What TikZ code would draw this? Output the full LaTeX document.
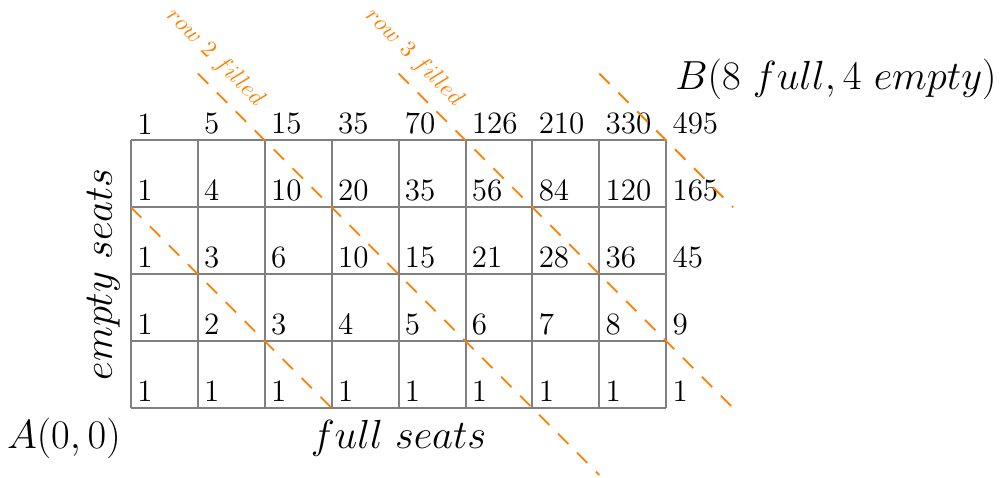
\documentclass[tikz,border=0pt]{standalone}
\usepackage{tikz}
\tikzset{
  gridline/.style={draw=gray, line width=0.85pt},
  fillline/.style={draw=orange, line width=0.8pt, dash pattern=on 6.2pt off 5.2pt},
  cellnum/.style={anchor=south west, inner sep=2.5pt, font=\fontsize{13.2}{16}\selectfont},
  biglabel/.style={inner sep=0pt, font=\LARGE},
  rowlabel/.style={inner sep=0pt, text=orange, font=\normalsize, rotate=-45},
}
\begin{document}
\begin{tikzpicture}[x=1cm,y=1cm]
\useasboundingbox (-1.958,-1.031) rectangle (13.049,6.099);
\draw[gridline] (0,0) grid (8,4);
\foreach \row [count=\j from 0] in {
  {1,1,1,1,1,1,1,1,1},
  {1,2,3,4,5,6,7,8,9},
  {1,3,6,10,15,21,28,36,45},
  {1,4,10,20,35,56,84,120,165},
  {1,5,15,35,70,126,210,330,495}} {
  \foreach \v [count=\i from 0] in \row {
    \node[cellnum] (n-\i-\j) at (\i,\j) {\v};
  }
}
% dashed lines
\coordinate (d1s) at (0,3); \coordinate (d1e) at (3,0);
\coordinate (d2s) at (1,5); \coordinate (d2e) at (7,-1);
\coordinate (d3s) at (4,5); \coordinate (d3e) at (9,0);
\coordinate (d4s) at (7,5); \coordinate (d4e) at (9,3);
\draw[fillline] (d1s) -- (d1e);
\draw[fillline] (d2s) -- (d2e);
\draw[fillline] (d3s) -- (d3e);
\draw[fillline] (d4s) -- (d4e);
\node[rowlabel] (r2) at (1.256,5.239) {$row\ 2\ filled$};
\node[rowlabel] (r3) at (4.23,5.239) {$row\ 3\ filled$};
\node[biglabel, anchor=base west] (B) at (8.13,4.764) {$B(8\ full, 4\ empty)$};
\node[biglabel, anchor=base west] (A) at (-1.86,-0.598) {$A(0,0)$};
\node[biglabel, anchor=base] (fs) at (4,-0.598) {$full\ seats$};
\node[biglabel, anchor=base, rotate=90] (es) at (-0.284,2) {$empty\ seats$};
\end{tikzpicture}
\end{document}
